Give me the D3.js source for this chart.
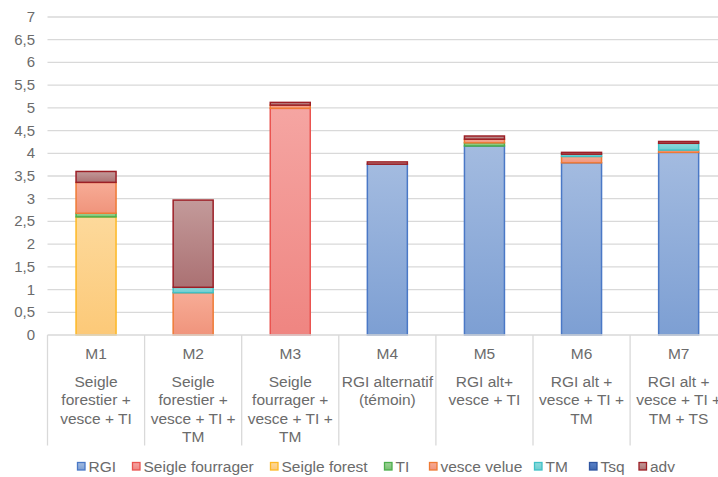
<!DOCTYPE html>
<html>
<head>
<meta charset="utf-8">
<script src="https://cdn.jsdelivr.net/npm/d3@7"></script>
<style>
  html, body { margin: 0; padding: 0; background: #fff; }
  svg { display: block; font-family: "Liberation Sans", Arial, sans-serif; }
</style>
</head>
<body>
<svg id="chart" width="718" height="477"></svg>
<script>
// Categories and their multi-line descriptions
const categories = ["M1", "M2", "M3", "M4", "M5", "M6", "M7"];
const descriptions = [
  ["Seigle", "forestier +", "vesce + TI"],
  ["Seigle", "forestier +", "vesce + TI +", "TM"],
  ["Seigle", "fourrager +", "vesce + TI +", "TM"],
  ["RGI alternatif", "(témoin)"],
  ["RGI alt+", "vesce + TI"],
  ["RGI alt +", "vesce + TI +", "TM"],
  ["RGI alt +", "vesce + TI +", "TM + TS"]
];

// Stacked series values (t MS/ha), bottom to top
const seriesNames = ["RGI", "Seigle fourrager", "Seigle forest", "TI", "vesce velue", "TM", "Tsq", "adv"];
const RGI             = [0,    0,    0,    3.76, 4.16, 3.79, 4.02];
const seigleFourrager = [0,    0,    4.99, 0,    0,    0,    0];
const seigleForest    = [2.60, 0,    0,    0,    0,    0,    0];
const TI              = [0.08, 0,    0,    0,    0.07, 0,    0];
const vesceVelue      = [0.68, 0.93, 0.07, 0,    0.08, 0.14, 0.05];
const TM              = [0,    0.12, 0,    0,    0,    0.05, 0.15];
const Tsq             = [0,    0,    0,    0,    0,    0,    0];
const adv             = [0.24, 1.92, 0.06, 0.05, 0.07, 0.04, 0.04];

const yTicks = [0, 0.5, 1, 1.5, 2, 2.5, 3, 3.5, 4, 4.5, 5, 5.5, 6, 6.5, 7];

// Styling per series: [top fill, bottom fill, border]
const palette = {
  "RGI":              ["#a3bbe0", "#7d9fd3", "#4a78c6"],
  "Seigle fourrager": ["#f5a5a2", "#ef8581", "#ea5450"],
  "Seigle forest":    ["#fdd99b", "#fcc978", "#fdb825"],
  "TI":               ["#9fd39a", "#78c06f", "#4cae4c"],
  "vesce velue":      ["#f7ac96", "#f0947c", "#ef7a35"],
  "TM":               ["#8fdcdd", "#6ccdd0", "#3fc1c6"],
  "Tsq":              ["#5a82c8", "#3e67b0", "#2f55a0"],
  "adv":              ["#c39a9a", "#ab7173", "#9c1f26"]
};

const rows = categories.map((c, i) => ({
  cat: c,
  "RGI": RGI[i], "Seigle fourrager": seigleFourrager[i], "Seigle forest": seigleForest[i],
  "TI": TI[i], "vesce velue": vesceVelue[i], "TM": TM[i], "Tsq": Tsq[i], "adv": adv[i]
}));

const svg = d3.select("#chart");
const margin = { left: 47.5, top: 17, bottom: 335 };
const bandWidth = 97.1;
const plotRight = margin.left + bandWidth * categories.length;

const x = d3.scaleBand().domain(categories).range([margin.left, plotRight]).paddingInner(0).paddingOuter(0);
const y = d3.scaleLinear().domain([0, 7]).range([margin.bottom, margin.top]);

// Gradients
const defs = svg.append("defs");
seriesNames.forEach((s, i) => {
  const g = defs.append("linearGradient").attr("id", "grad" + i)
    .attr("x1", 0).attr("y1", 0).attr("x2", 0).attr("y2", 1);
  g.append("stop").attr("offset", "0%").attr("stop-color", palette[s][0]);
  g.append("stop").attr("offset", "100%").attr("stop-color", palette[s][1]);
});

// Gridlines
svg.append("g").selectAll("line").data(yTicks.filter(t => t > 0)).join("line")
  .attr("x1", margin.left).attr("x2", 718)
  .attr("y1", d => y(d)).attr("y2", d => y(d))
  .attr("stroke", "#d9d9d9").attr("stroke-width", 1.3);

// Y tick labels
svg.append("g").selectAll("text").data(yTicks).join("text")
  .attr("x", 35).attr("y", d => y(d) + 5)
  .attr("text-anchor", "end")
  .attr("font-size", "15px").attr("fill", "#6b6b6b")
  .text(d => d3.format("")(d).replace(".", ","));

// Stacked bars
const stack = d3.stack().keys(seriesNames)(rows);
const barW = 40;
svg.append("g").selectAll("g").data(stack).join("g")
  .each(function(layer, li) {
    const name = seriesNames[li];
    d3.select(this).selectAll("rect").data(layer.filter(d => d[1] - d[0] > 0)).join("rect")
      .attr("x", d => x(d.data.cat) + x.bandwidth() / 2 - barW / 2)
      .attr("width", barW)
      .attr("y", d => y(d[1]))
      .attr("height", d => y(d[0]) - y(d[1]))
      .attr("fill", "url(#grad" + li + ")")
      .attr("stroke", palette[name][2])
      .attr("stroke-width", 1.5);
  });

// Category axis: baseline and separators
const axisG = svg.append("g");
axisG.append("line")
  .attr("x1", margin.left).attr("x2", 718)
  .attr("y1", margin.bottom).attr("y2", margin.bottom)
  .attr("stroke", "#d9d9d9").attr("stroke-width", 1.3);
const bounds = categories.map(c => x(c)).concat([plotRight]);
axisG.selectAll("line.sep").data(bounds).join("line").attr("class", "sep")
  .attr("x1", d => d).attr("x2", d => d)
  .attr("y1", margin.bottom).attr("y2", 445.5)
  .attr("stroke", "#d9d9d9").attr("stroke-width", 1.3);

// Category labels
categories.forEach((c, i) => {
  const cx = x(c) + x.bandwidth() / 2;
  axisG.append("text")
    .attr("x", cx).attr("y", 358.5)
    .attr("text-anchor", "middle").attr("font-size", "15.5px").attr("fill", "#6b6b6b")
    .text(c);
  descriptions[i].forEach((line, j) => {
    axisG.append("text")
      .attr("x", cx).attr("y", 387 + j * 18.3)
      .attr("text-anchor", "middle").attr("font-size", "15.5px").attr("fill", "#6b6b6b")
      .text(line);
  });
});

// Legend
const legendX = [77.5, 132.5, 270.5, 384.5, 429.5, 534.5, 589.5, 639];
const legend = svg.append("g");
seriesNames.forEach((s, i) => {
  const g = legend.append("g").attr("transform", `translate(${legendX[i]},462.5)`);
  g.append("rect").attr("width", 7.5).attr("height", 7.5)
    .attr("fill", `url(#grad${i})`).attr("stroke", palette[s][2]).attr("stroke-width", 1.3);
  g.append("text").attr("x", 11).attr("y", 9.5)
    .attr("font-size", "15.5px").attr("fill", "#6b6b6b").text(s);
});
</script>
</body>
</html>
